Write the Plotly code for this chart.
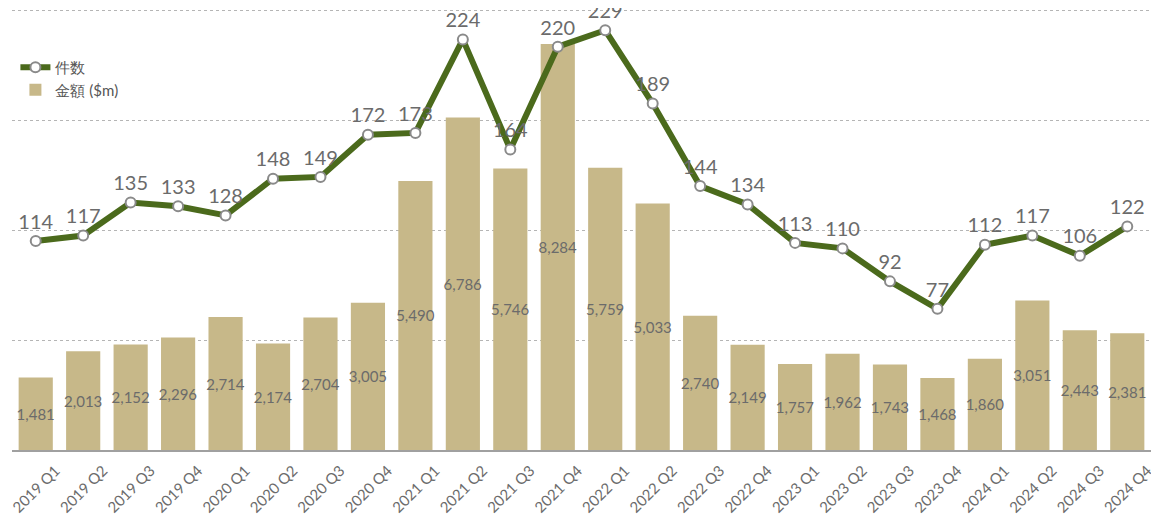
import plotly.graph_objects as go

quarters = ["2019 Q1","2019 Q2","2019 Q3","2019 Q4","2020 Q1","2020 Q2","2020 Q3","2020 Q4",
            "2021 Q1","2021 Q2","2021 Q3","2021 Q4","2022 Q1","2022 Q2","2022 Q3","2022 Q4",
            "2023 Q1","2023 Q2","2023 Q3","2023 Q4","2024 Q1","2024 Q2","2024 Q3","2024 Q4"]
counts = [114,117,135,133,128,148,149,172,173,224,164,220,229,189,144,134,113,110,92,77,112,117,106,122]
amounts = [1481,2013,2152,2296,2714,2174,2704,3005,5490,6786,5746,8284,5759,5033,2740,2149,
           1757,1962,1743,1468,1860,3051,2443,2381]

FONT = "Lato"
GRAY = "#6b6b6b"

fig = go.Figure()
fig.add_trace(go.Bar(
    x=quarters, y=amounts, name="金額 ($m)", yaxis="y",
    marker=dict(color="#c7b889", line=dict(width=0)),
    text=[f"{v:,}" for v in amounts], textposition="inside", insidetextanchor="middle",
    textangle=0, textfont=dict(size=15, color=GRAY, family=FONT),
    legendrank=2,
))
fig.add_trace(go.Scatter(
    x=quarters, y=counts, name="件数", yaxis="y2", mode="lines+markers+text",
    line=dict(color="#4b6a1c", width=6),
    marker=dict(size=10, color="white", line=dict(color="#8a8a8a", width=2)),
    text=[str(v) for v in counts], textposition="top center",
    textfont=dict(size=20, color=GRAY, family=FONT), cliponaxis=False,
    legendrank=1,
))

fig.update_layout(
    width=1151, height=511,
    margin=dict(l=4, r=8, t=1, b=69, autoexpand=False),
    paper_bgcolor="white", plot_bgcolor="white",
    bargap=0.28,
    uniformtext=dict(minsize=15, mode="show"),
    font=dict(family=FONT, color=GRAY),
    showlegend=True,
    legend=dict(x=0.003, y=0.905, xanchor="left", yanchor="top", bgcolor="rgba(0,0,0,0)",
                font=dict(size=15, color="#555555", family=FONT), itemwidth=30),
    xaxis=dict(tickangle=-45, tickfont=dict(size=15, color=GRAY, family=FONT), automargin=False,
               range=[-0.5, len(quarters) - 0.5], ticklabelshift=20, ticklabelstandoff=4,
               showline=True, linecolor="#a0a0a0", linewidth=2, ticks="", showgrid=False),
    yaxis=dict(range=[0, 9000], showticklabels=False, showgrid=False, zeroline=False,
               showline=False, automargin=False),
    yaxis2=dict(range=[0, 240.6], overlaying="y", side="right", showticklabels=False,
                showgrid=True, gridcolor="#b5b5b5", griddash="dot", gridwidth=1, automargin=False,
                dtick=60, zeroline=False, showline=True, linecolor="#a0a0a0", linewidth=2, ticks=""),
)
fig.write_html("out.html")
